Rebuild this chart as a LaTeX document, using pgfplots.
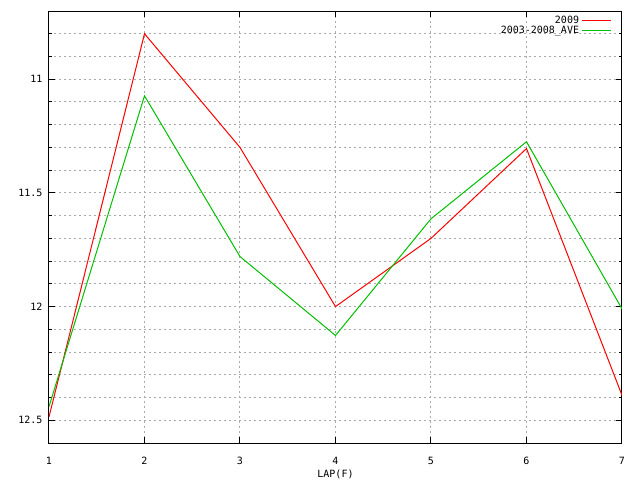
\documentclass[border=0pt]{standalone}
\usepackage{fontspec}
\setmainfont{DejaVu Sans Mono}
\usepackage{pgfplots}
\pgfplotsset{compat=1.18}

\definecolor{gpred}{RGB}{255,0,0}
\definecolor{gpgreen}{RGB}{0,192,0}
\definecolor{gpgrid}{RGB}{170,170,170}

\begin{document}
\begin{tikzpicture}[x=1pt,y=1pt]
\useasboundingbox (0,0) rectangle (640,480);
\begin{axis}[
  at={(49pt,37pt)}, anchor=south west,
  scale only axis,
  width=573pt, height=432pt,
  xmin=1, xmax=7,
  ymin=10.7, ymax=12.6,
  y dir=reverse,
  xtick={1,2,3,4,5,6,7},
  ytick={11,11.5,12,12.5},
  minor ytick={10.8,10.9,11.1,11.2,11.3,11.4,11.6,11.7,11.8,11.9,12.1,12.2,12.3,12.4},
  yticklabels={11,11.5,12,12.5},
  xmajorgrids, ymajorgrids, yminorgrids,
  grid style={gpgrid, line width=1pt, dash pattern=on 2pt off 3pt},
  minor grid style={gpgrid, line width=1pt, dash pattern=on 2pt off 3pt},
  tick align=inside,
  major tick length=6pt, minor tick length=3pt,
  every tick/.style={black, line width=1pt},
  axis line style={line width=1pt},
  tick label style={font=\fontsize{10}{12}\selectfont},
  /pgf/number format/assume math mode=true,
  xticklabel style={yshift=-11pt},
  yticklabel style={xshift=-3pt},
  xlabel={LAP(F)},
  xlabel style={font=\fontsize{10}{12}\selectfont, yshift=2pt},
  legend style={at={(0.9865,0.997)}, anchor=north east, draw=none, fill=none,
    font=\fontsize{10}{12}\selectfont, row sep=-3pt,
    /tikz/every even column/.append style={column sep=5pt}},
  legend cell align=right,
  legend plot pos=right,
  legend image code/.code={\draw[#1] (0pt,0.5pt) -- (29pt,0.5pt);},
]
\addplot[gpred, line width=1pt] coordinates {
  (1,12.485)(2,10.80)(3,11.30)(4,12.00)(5,11.70)(6,11.305)(7,12.39)
};
\addlegendentry{2009}
\addplot[gpgreen, line width=1pt] coordinates {
  (1,12.44)(2,11.073)(3,11.78)(4,12.127)(5,11.614)(6,11.275)(7,12.01)
};
\addlegendentry{2003-2008\_AVE}
\end{axis}
\end{tikzpicture}
\end{document}
